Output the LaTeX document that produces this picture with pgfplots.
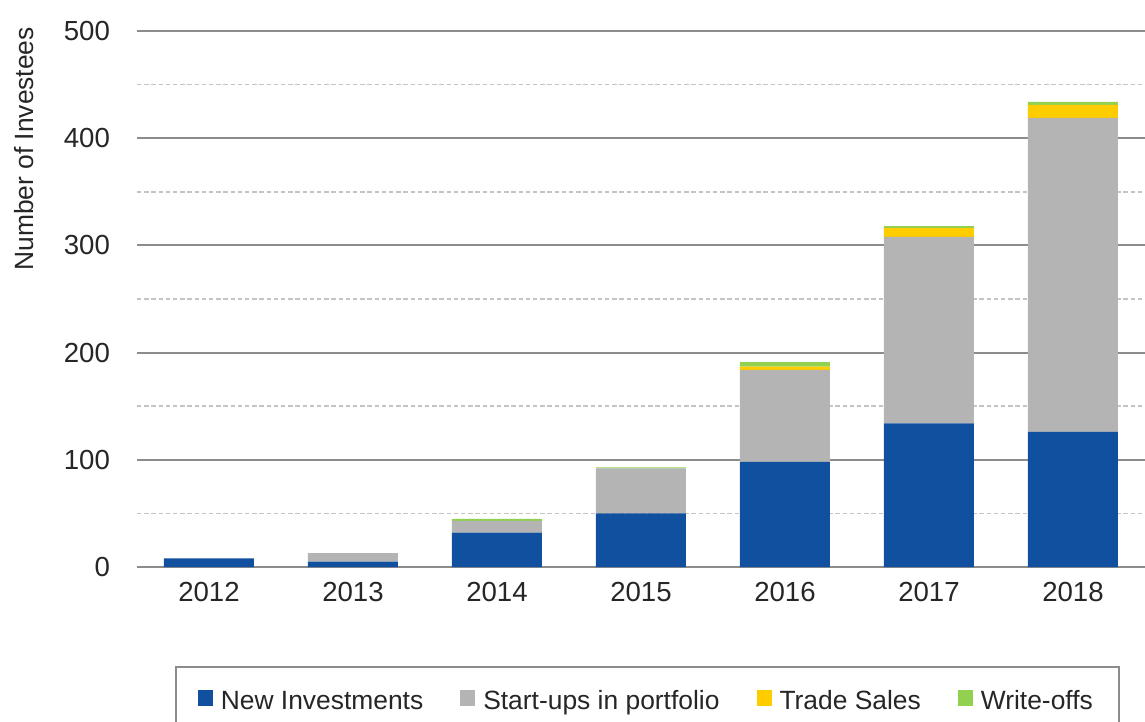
\documentclass[border=0pt]{standalone}
\usepackage{pgfplots}
\pgfplotsset{compat=1.18}
\usepackage{fontspec}
\setmainfont{Liberation Sans}
\definecolor{cBlue}{HTML}{11509F}
\definecolor{cGrey}{HTML}{B4B4B4}
\definecolor{cYellow}{HTML}{FFCC00}
\definecolor{cGreen}{HTML}{92D050}
\definecolor{cMajor}{HTML}{8C8C8C}
\definecolor{cMinor}{HTML}{C4C4C4}
\definecolor{cZero}{HTML}{D9D9D9}
\pgfplotstableread{
x blue grey ts wo
0 8 0 0 0
1 5 8 0 0
2 32 11 0 2
3 50 42 0 1
4 98 86 3 4
5 134 174 8 2
6 126 293 12 3
}\datatable
\begin{document}
\begin{tikzpicture}
\path[use as bounding box] (-68.5pt,-77.5pt) rectangle (504pt,283.5pt);
\begin{axis}[
  at={(0,0)}, anchor=south west,
  scale only axis, width=504pt, height=268pt,
  ybar stacked, bar width=45pt,
  xmin=-0.5, xmax=6.5, ymin=0, ymax=500,
  xtick=data, xticklabels={2012,2013,2014,2015,2016,2017,2018},
  ytick={100,200,300,400,500},
  extra y ticks={0},
  extra y tick style={grid style={cZero, line width=1pt}},
  minor ytick={50,150,250,350,450},
  ymajorgrids, yminorgrids,
  major grid style={cMajor, line width=1pt},
  minor grid style={cMinor, line width=0.9pt, dash pattern=on 2.2pt off 1.4pt},
  axis line style={draw=none},
  tick style={draw=none},
  major tick length=0pt, minor tick length=0pt,
  /pgf/number format/assume math mode=true,
  tick label style={font=\fontsize{13.8}{15}\selectfont, text=black!85},
  yticklabel style={xshift=-10pt},
  xticklabel style={yshift=-4pt},
  ylabel={Number of Investees},
  ylabel style={at={(axis description cs:-0.112,0.78)}, anchor=center, font=\fontsize{13.2}{15}\selectfont, text=black!85},
  legend columns=4,
  legend cell align=left,
  legend image code/.code={\fill[#1] (1.5pt,-2.3pt) rectangle (9pt,5.7pt); \path (11pt,0pt);},
  legend style={at={(axis description cs:0.0377,-0.1847)}, anchor=north west,
    draw=cMajor, line width=0.8pt, inner xsep=11pt, inner ysep=10pt,
    font=\fontsize{13.2}{15}\selectfont, text=black!85,
    /tikz/every even column/.append style={column sep=16.5pt}},
]
\addplot[fill=cBlue, draw=none] table[x=x, y=blue] {\datatable};
\addplot[fill=cGrey, draw=none] table[x=x, y=grey] {\datatable};
\addplot[fill=cYellow, draw=none] table[x=x, y=ts] {\datatable};
\addplot[fill=cGreen, draw=none] table[x=x, y=wo] {\datatable};
\legend{New Investments, Start-ups in portfolio, Trade Sales, Write-offs}
\end{axis}
\end{tikzpicture}
\end{document}
